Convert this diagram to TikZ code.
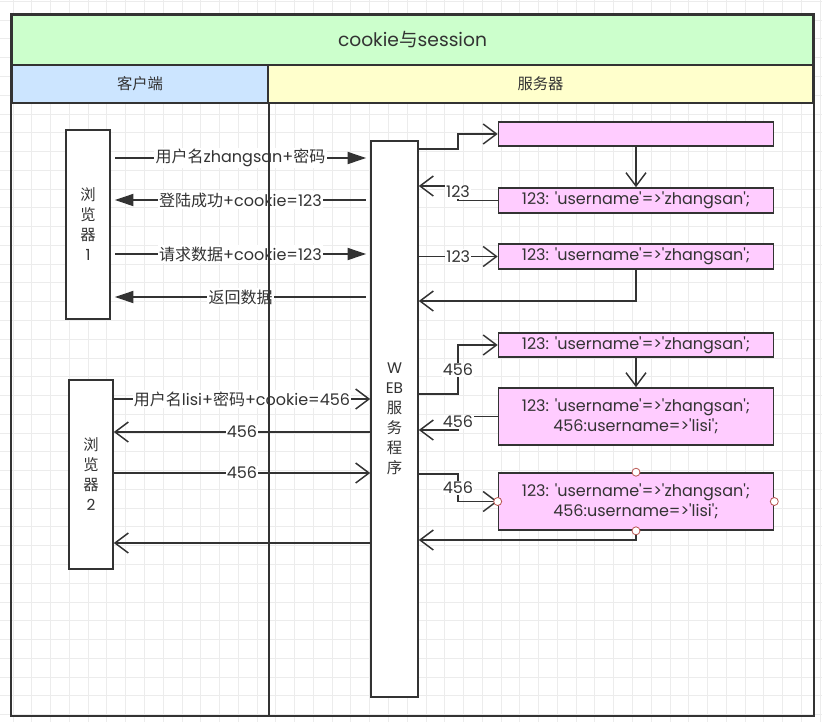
\documentclass[tikz,border=0pt]{standalone}
\usepackage{fontspec}
\setmainfont{Poppins}
\newfontfamily\cjk{Noto Sans CJK SC}
\usetikzlibrary{arrows.meta}
\definecolor{lnclr}{HTML}{333333}
\definecolor{gridclr}{HTML}{ECECEC}
\definecolor{ttlbg}{HTML}{CCFFCC}
\definecolor{clibg}{HTML}{CCE5FF}
\definecolor{srvbg}{HTML}{FFFFCC}
\definecolor{sesbg}{HTML}{FFCCFF}
\definecolor{dotclr}{HTML}{B85450}
\newcommand\sq{\textquotesingle}
\newcommand\zhang{123: \sq username\sq=>\sq zhangsan\sq;}
\begin{document}
\begin{tikzpicture}[x=0.75pt,y=-0.75pt,
        every node/.style={text=lnclr},
        frame/.style={draw=lnclr,line width=1.6pt},
        bxwhite/.style={fill=white,draw=lnclr,line width=1.2pt,align=center,inner sep=0pt,
          font=\cjk\fontsize{11.5}{15}\selectfont},
        bxpink/.style={fill=sesbg,draw=lnclr,line width=1.2pt,align=center,inner sep=0pt,
          minimum width=206.25pt,font=\fontsize{12}{15}\selectfont},
        lbl/.style={fill=white,inner sep=1pt,font=\fontsize{12}{14}\selectfont},
        fillarrow/.style={draw=lnclr,line width=1.4pt,-{Triangle[length=14pt,width=9pt]},
          shorten <=3.5pt,shorten >=3pt},
        openarrow/.style={draw=lnclr,line width=1.1pt,-{Straight Barb[length=10pt,width=15pt,line width=1.1pt]}},
        dot/.style={circle,fill=white,draw=dotclr,line width=0.6pt,inner sep=0pt,minimum size=6pt}
      ]

      \useasboundingbox (0,0) rectangle (822,722);

      % background grid
      \foreach \i in {0,...,43}
        \draw[gridclr,line width=0.75pt] ({13.1+\i*18.77},0) -- ({13.1+\i*18.77},722);
      \foreach \j in {0,...,38}
        \draw[gridclr,line width=0.75pt] (0,{1.4+\j*18.77}) -- (822,{1.4+\j*18.77});

      % pool and lanes
      \node[fill=ttlbg,draw=lnclr,line width=1.6pt,minimum width=600.75pt,minimum height=37.5pt,
        font=\fontsize{14}{16}\selectfont] (ttl) at (412.5,40) {cookie{\cjk 与}session};
      \node[fill=clibg,draw=lnclr,line width=1.6pt,minimum width=192pt,minimum height=28.5pt,
        font=\cjk\fontsize{11.5}{14}\selectfont] (clihd) at (140,84) {客户端};
      \node[fill=srvbg,draw=lnclr,line width=1.6pt,minimum width=408.75pt,minimum height=28.5pt,
        font=\cjk\fontsize{11.5}{14}\selectfont] (srvhd) at (540.5,84) {服务器};

      % browsers and server
      \node[bxwhite,minimum width=33pt,minimum height=141.75pt] (br1) at (88,224.5)
        {浏\\览\\器\\\rmfamily 1};
      \node[bxwhite,minimum width=33pt,minimum height=141.75pt] (br2) at (91,474.5)
        {浏\\览\\器\\\rmfamily 2};
      \node[bxwhite,minimum width=35.25pt,minimum height=417pt] (srv) at (394.5,419)
        {\rmfamily W\\\rmfamily EB\\服\\务\\程\\序};

      % session store
      \node[bxpink,minimum height=18pt] (sa) at (636,134) {};
      \node[bxpink,minimum height=18.75pt] (sb) at (636,200.5) {\zhang};
      \node[bxpink,minimum height=18.75pt] (sc) at (636,256.5) {\zhang};
      \node[bxpink,minimum height=18pt] (sd) at (636,345) {\zhang};
      \node[bxpink,minimum height=42.75pt] (se) at (636,416.5)
        {\zhang\\456:username=>\sq lisi\sq;};
      \node[bxpink,minimum height=42.75pt] (sf) at (636,501.5)
        {\zhang\\456:username=>\sq lisi\sq;};

      % browser 1 <-> server
      \draw[fillarrow] (br1.east |- 0,158) -- node[lbl] {{\cjk 用户名}zhangsan+{\cjk 密码}} (srv.west |- 0,158);
      \draw[fillarrow] (srv.west |- 0,200) -- node[lbl] {{\cjk 登陆成功}+cookie=123} (br1.east |- 0,200);
      \draw[fillarrow] (br1.east |- 0,254) -- node[lbl] {{\cjk 请求数据}+cookie=123} (srv.west |- 0,254);
      \draw[fillarrow] (srv.west |- 0,297) -- node[lbl] {\cjk 返回数据} (br1.east |- 0,297);

      % browser 2 <-> server
      \draw[openarrow] (br2.east |- 0,399) -- node[lbl] {{\cjk 用户名}lisi+{\cjk 密码}+cookie=456} (srv.west |- 0,399);
      \draw[openarrow] (srv.west |- 0,432) -- node[lbl] {456} (br2.east |- 0,432);
      \draw[openarrow] (br2.east |- 0,473) -- node[lbl] {456} (srv.west |- 0,473);
      \draw[openarrow] (srv.west |- 0,543) -- (br2.east |- 0,543);

      % server <-> session store
      \draw[openarrow] (srv.east |- 0,149) -| (458,134) -- (sa.west);
      \draw[openarrow] (sa.south) -- (sb.north);
      \draw[openarrow] (sb.west) -| (458,186) -- (srv.east |- 0,186);
      \node[lbl] at (458,192) {123};
      \draw[openarrow] (srv.east |- sc.west) -- node[lbl] {123} (sc.west);
      \draw[openarrow] (sc.south) |- (srv.east |- 0,301);
      \draw[openarrow] (srv.east |- 0,394) -| (458,345) -- (sd.west);
      \node[lbl] at (458,370) {456};
      \draw[openarrow] (sd.south) -- (se.north);
      \draw[openarrow] (se.west) -| (458,430) -- (srv.east |- 0,430);
      \node[lbl] at (458,422) {456};
      \draw[openarrow] (srv.east |- 0,474) -| (458,501.5) -- (sf.west);
      \node[lbl] at (458,488) {456};
      \draw[openarrow] (sf.south) |- (srv.east |- 0,540);

      \foreach \a in {north,south,west,east}
        \node[dot] at (sf.\a) {};

      % pool border and lane divider
      \draw[frame] (clihd.south east) -- (clihd.south east |- 0,716);
      \draw[frame] (ttl.north west) rectangle (srvhd.east |- 0,716);

    \end{tikzpicture}
\end{document}
